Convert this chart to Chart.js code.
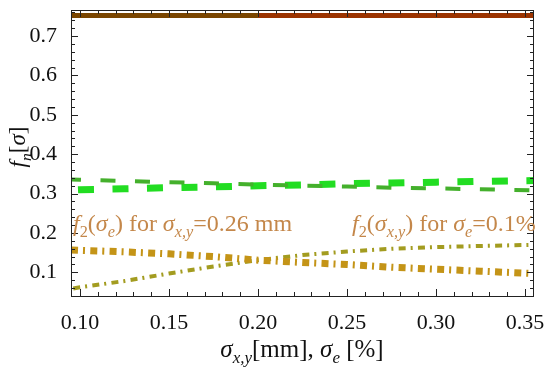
<!DOCTYPE html>
<html>
<head>
<meta charset="utf-8">
<script src="https://cdn.jsdelivr.net/npm/chart.js@4.4.1/dist/chart.umd.min.js"></script>
<style>
  body { margin: 0; background: #fff; }
  canvas { display: block; }
</style>
</head>
<body>
<canvas id="chart" width="550" height="370"></canvas>
<script>
// values
const sigma = [0.095, 0.10, 0.125, 0.15, 0.175, 0.20, 0.225, 0.25, 0.275, 0.30, 0.325, 0.355]
const f1 = [0.752, 0.752, 0.752, 0.752, 0.752, 0.752, 0.752, 0.752, 0.752, 0.752, 0.752, 0.752]
const f3a = [0.336, 0.335, 0.332, 0.329, 0.326, 0.323, 0.320, 0.318, 0.315, 0.313, 0.311, 0.308]
const f3b = [0.309, 0.310, 0.312, 0.315, 0.317, 0.320, 0.322, 0.325, 0.327, 0.329, 0.331, 0.333]
const f2e = [0.157, 0.156, 0.152, 0.147, 0.140, 0.131, 0.125, 0.120, 0.113, 0.108, 0.103, 0.097]
const f2xy = [0.058, 0.062, 0.078, 0.097, 0.115, 0.131, 0.144, 0.153, 0.160, 0.164, 0.167, 0.170]

const xTicks = [0.10, 0.15, 0.20, 0.25, 0.30, 0.35]
const yTicks = [0.1, 0.2, 0.3, 0.4, 0.5, 0.6, 0.7]

const serif = '"Liberation Serif", "DejaVu Serif", serif'
const labelColor = '#c4874a'

const toPoints = (ys) => sigma.map((x, i) => ({ x, y: ys[i] }))

// draw text made of pieces (italic / subscript)
function drawRich (ctx, segs, x, y, size, color, align) {
  const fontOf = (s) => (s.it ? 'italic ' : '') + (s.sub ? size * 0.68 : size) + 'px ' + serif
  let total = 0
  segs.forEach(s => { ctx.font = fontOf(s); total += ctx.measureText(s.t).width })
  if (align === 'center') x -= total / 2
  ctx.fillStyle = color
  ctx.textBaseline = 'alphabetic'
  ctx.textAlign = 'left'
  segs.forEach(s => {
    ctx.font = fontOf(s)
    ctx.fillText(s.t, x, y + (s.sub ? size * 0.25 : 0))
    x += ctx.measureText(s.t).width
  })
}

const note1 = [
  { t: 'f', it: true }, { t: '2', sub: true }, { t: '(' }, { t: 'σ', it: true }, { t: 'e', it: true, sub: true },
  { t: ') for ' }, { t: 'σ', it: true }, { t: 'x,y', it: true, sub: true }, { t: '=0.26 mm' }
]
const note2 = [
  { t: 'f', it: true }, { t: '2', sub: true }, { t: '(' }, { t: 'σ', it: true }, { t: 'x,y', it: true, sub: true },
  { t: ') for ' }, { t: 'σ', it: true }, { t: 'e', it: true, sub: true }, { t: '=0.1%' }
]
const xTitle = [
  { t: 'σ', it: true }, { t: 'x,y', it: true, sub: true }, { t: '[mm], ' }, { t: 'σ', it: true },
  { t: 'e', it: true, sub: true }, { t: ' [%]' }
]
const yTitle = [{ t: 'f', it: true }, { t: 'n', it: true, sub: true }, { t: '[' }, { t: 'σ', it: true }, { t: ']' }]

// frame with inward ticks like the original, plus titles and notes
const framePlugin = {
  id: 'frame',
  afterDatasetsDraw (chart) {
    const { ctx, chartArea: a, scales: { x, y } } = chart
    ctx.save()
    ctx.strokeStyle = '#222'
    ctx.lineWidth = 1
    ctx.strokeRect(a.left + 0.5, a.top + 0.5, a.right - a.left - 1, a.bottom - a.top)
    ctx.beginPath()
    for (let v = 10; v <= 35; v++) {
      const px = Math.round(x.getPixelForValue(v / 100)) + 0.5
      const len = v % 5 === 0 ? 7 : 4
      ctx.moveTo(px, a.bottom); ctx.lineTo(px, a.bottom - len)
      ctx.moveTo(px, a.top); ctx.lineTo(px, a.top + len)
    }
    for (let v = 3; v <= 38; v++) {
      const py = Math.round(y.getPixelForValue(v / 50)) + 0.5
      if (py < a.top || py > a.bottom) continue
      const len = v % 5 === 0 ? 7 : 4
      ctx.moveTo(a.left, py); ctx.lineTo(a.left + len, py)
      ctx.moveTo(a.right, py); ctx.lineTo(a.right - len, py)
    }
    ctx.stroke()

    drawRich(ctx, note1, a.left + 2, 231, 24, labelColor)
    drawRich(ctx, note2, 352, 231, 24, labelColor)
    drawRich(ctx, xTitle, 302, 357, 25, '#111', 'center')
    ctx.translate(25, 147)
    ctx.rotate(-Math.PI / 2)
    drawRich(ctx, yTitle, 0, 0, 23, '#111', 'center')
    ctx.restore()
  }
}

new Chart(document.getElementById('chart'), {
  type: 'line',
  data: {
    datasets: [
      {
        data: toPoints(f1),
        borderColor: '#9b3300',
        borderWidth: 5,
        segment: { borderColor: c => (c.p0.parsed.x < 0.2 ? '#7a4600' : '#9b3300') }
      },
      {
        data: toPoints(f3a),
        borderColor: '#44b02c',
        borderWidth: 4,
        borderDash: [15, 19.5],
        borderDashOffset: 5
      },
      {
        data: toPoints(f3b),
        borderColor: '#22dd22',
        borderWidth: 7,
        borderDash: [16, 18.5],
        borderDashOffset: 27.5
      },
      {
        data: toPoints(f2e),
        borderColor: '#c49417',
        borderWidth: 7,
        borderDash: [7, 5, 2, 5.3]
      },
      {
        data: toPoints(f2xy),
        borderColor: '#a39c20',
        borderWidth: 4,
        borderDash: [7, 5, 2, 5.3],
        borderDashOffset: 17
      }
    ]
  },
  options: {
    responsive: false,
    animation: false,
    layout: { padding: { top: 10, right: 16, left: 0, bottom: 0 } },
    elements: {
      point: { radius: 0 },
      line: { tension: 0, borderCapStyle: 'butt', fill: false }
    },
    plugins: {
      legend: { display: false },
      tooltip: { enabled: false }
    },
    scales: {
      x: {
        type: 'linear',
        min: 0.095,
        max: 0.355,
        afterFit: s => { s.height = 74; s.paddingLeft = 0; s.paddingRight = 0 },
        afterBuildTicks: s => { s.ticks = xTicks.map(v => ({ value: v })) },
        grid: { display: false },
        border: { display: false },
        ticks: {
          padding: 6,
          color: '#111',
          font: { family: serif, size: 22 },
          maxRotation: 0,
          callback: v => v.toFixed(2)
        }
      },
      y: {
        min: 0.04,
        max: 0.766,
        afterFit: s => { s.width = 71; s.paddingTop = 0; s.paddingBottom = 0 },
        afterBuildTicks: s => { s.ticks = yTicks.map(v => ({ value: v })) },
        grid: { display: false },
        border: { display: false },
        ticks: {
          padding: 6,
          color: '#111',
          font: { family: serif, size: 22 },
          callback: v => v.toFixed(1)
        }
      }
    }
  },
  plugins: [framePlugin]
})
</script>
</body>
</html>
